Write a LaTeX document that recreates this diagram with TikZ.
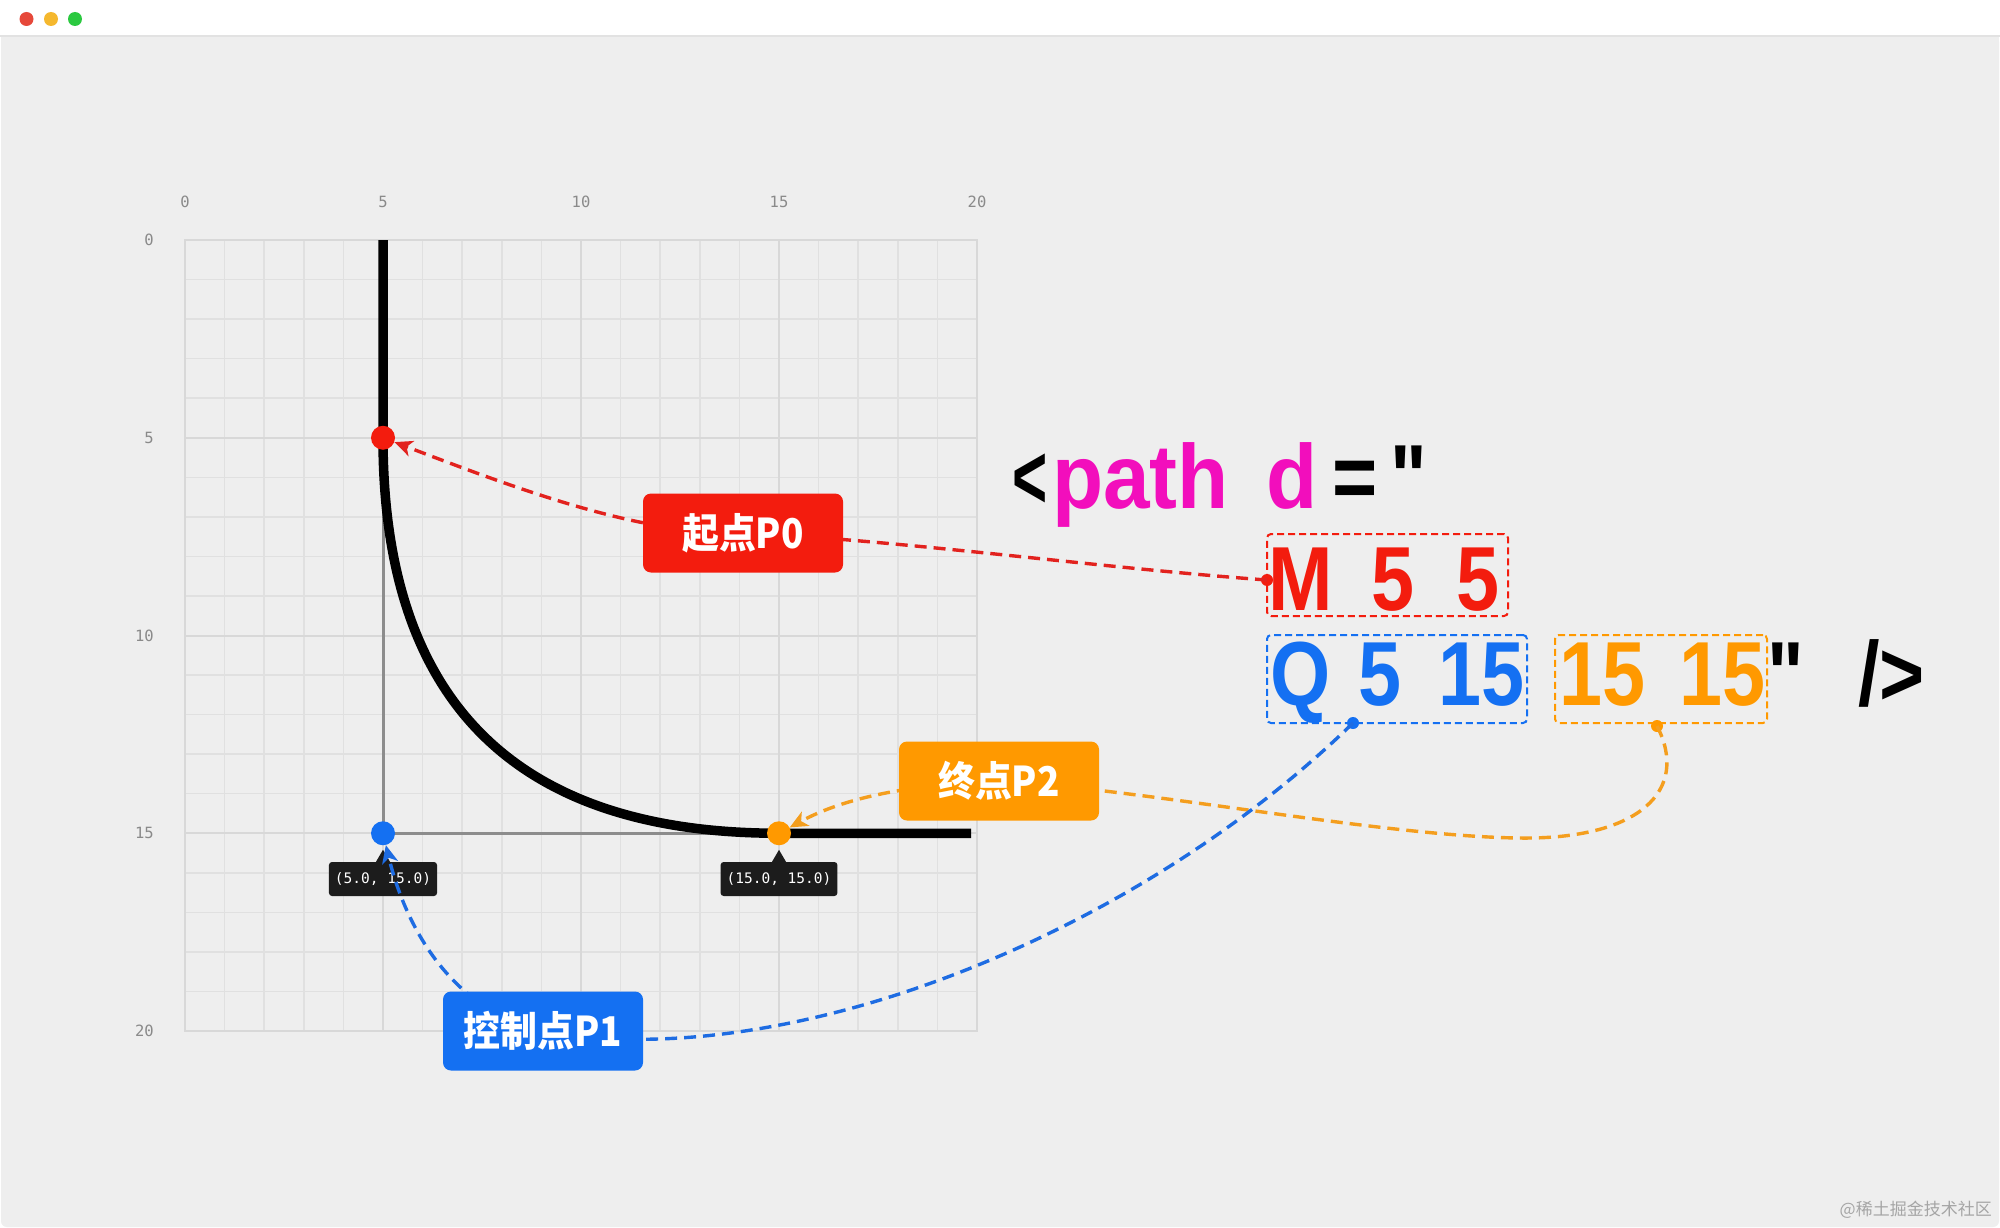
\documentclass[tikz,border=0pt]{standalone}
\usepackage{fontspec}
\usetikzlibrary{arrows.meta}
\newfontfamily\codefont{Liberation Sans}[FakeStretch=0.85]
\newfontfamily\codefontw{Liberation Sans}[FakeStretch=0.92]
\newfontfamily\cjkfont{Noto Sans CJK SC}[FakeStretch=0.9]
\newfontfamily\monofont{DejaVu Sans Mono}
\newfontfamily\wmfont{Noto Sans CJK SC}
\definecolor{bggray}{RGB}{238,238,238}
\definecolor{barline}{RGB}{226,226,226}
\definecolor{tlred}{RGB}{230,72,58}
\definecolor{tlyellow}{RGB}{245,184,46}
\definecolor{tlgreen}{RGB}{43,201,64}
\definecolor{gridminor}{RGB}{224,224,224}
\definecolor{gridmajor}{RGB}{216,216,216}
\definecolor{ticktext}{RGB}{138,138,138}
\definecolor{ctrlgray}{RGB}{140,140,140}
\definecolor{tipblack}{RGB}{28,28,28}
\definecolor{cred}{RGB}{243,28,14}
\definecolor{cblue}{RGB}{20,112,242}
\definecolor{corange}{RGB}{255,153,0}
\definecolor{cmagenta}{RGB}{242,14,188}
\definecolor{lred}{RGB}{226,34,30}
\definecolor{lblue}{RGB}{30,108,226}
\definecolor{lorange}{RGB}{244,158,30}
\definecolor{wmgray}{RGB}{165,165,165}
\begin{document}
\begin{tikzpicture}[x=1pt,y=-1pt,
  tick/.style={font=\monofont\fontsize{15.5}{15.5}\selectfont, text=ticktext, inner sep=0pt},
  bigdot/.style={circle, minimum size=24pt, inner sep=0pt},
  smalldot/.style={circle, minimum size=12pt, inner sep=0pt},
  tipbox/.style={fill=tipblack, rounded corners=3pt, minimum height=34pt, inner xsep=6pt, inner ysep=0pt,
    text=white, font=\monofont\fontsize{14.5}{14.5}\selectfont},
  lab/.style={rounded corners=8pt, minimum width=200pt, minimum height=79pt, inner sep=0pt,
    text=white, font=\cjkfont\bfseries\fontsize{41}{41}\selectfont},
  code/.style={font=\codefont\bfseries\fontsize{91}{91}\selectfont, inner sep=0pt, anchor=base west},
  codew/.style={font=\codefontw\bfseries\fontsize{91}{91}\selectfont, inner sep=0pt, anchor=base west},
  codebox/.style={dashed, dash pattern=on 7pt off 4pt, line width=2pt, rounded corners=4pt, inner sep=0pt},
  conn/.style={line width=3.4pt, dash pattern=on 12pt off 7pt, -{Stealth[length=18pt,width=16pt,inset=5pt]}}
]
\useasboundingbox (0,0) rectangle (2000,1228);
% window
\fill[white] (0,0) rectangle (2000,1228);
\fill[bggray, rounded corners=6pt] (1,36) rectangle (1999,1227);
\fill[bggray] (1,36) rectangle (1999,60);
\draw[barline, line width=1.5pt] (0,36) -- (2000,36);
\fill[tlred] (26.5,19) circle[radius=7pt];
\fill[tlyellow] (51,19) circle[radius=7pt];
\fill[tlgreen] (75,19) circle[radius=7pt];

% grid
\begin{scope}[shift={(185,240)}, x=39.6pt, y=-39.55pt]
  \foreach \i in {1,...,19} {
    \draw[gridminor, line width=1.5pt] (\i,0) -- (\i,20);
    \draw[gridminor, line width=1.5pt] (0,\i) -- (20,\i);
  }
  \foreach \i in {5,10,15} {
    \draw[gridmajor, line width=2pt] (\i,0) -- (\i,20);
    \draw[gridmajor, line width=2pt] (0,\i) -- (20,\i);
  }
  \draw[gridmajor, line width=2pt] (0,0) rectangle (20,20);
  % control polygon
  \draw[ctrlgray, line width=3pt] (5,5) -- (5,15) -- (15,15);
  % the path
  \draw[black, line width=9.5pt] (5,0) -- (5,5) .. controls (5,11.6667) and (8.3333,15) .. (15,15) -- (19.85,15);
  \coordinate (P0) at (5,5);
  \coordinate (P1) at (5,15);
  \coordinate (P2) at (15,15);
\end{scope}

% tick labels
\foreach \k/\lab in {0/0,1/5,2/10,3/15,4/20} {
  \node[tick] at ({185+198*\k},202) {\lab};
  \node[tick, anchor=east] at (154,{240+197.75*\k}) {\lab};
}

% tooltips
\node[tipbox] (tip1) at (383,879) {(5.0, 15.0)};
\fill[tipblack] ([xshift=-7pt]tip1.north) -- ([yshift=12pt]tip1.north) -- ([xshift=7pt]tip1.north) -- cycle;
\node[tipbox] (tip2) at (779,879) {(15.0, 15.0)};
\fill[tipblack] ([xshift=-7pt]tip2.north) -- ([yshift=12pt]tip2.north) -- ([xshift=7pt]tip2.north) -- cycle;

% points on curve
\node[bigdot, fill=cred] (p0dot) at (P0) {};
\node[bigdot, fill=cblue] (p1dot) at (P1) {};
\node[bigdot, fill=corange] (p2dot) at (P2) {};

% code text
\node[code, text=black] (tlt) at (1012,508) {\scalebox{0.78}[1]{<}};
\node[codew, text=cmagenta] (tpath) at (1052,508) {path};
\node[codew, text=cmagenta] (td) at (1266,508) {d};
\node[code, text=black] (teq) at (1332,508) {=};
\node[code, text=black] (tq1) at (1390,508) {"};

\node[codebox, draw=cred, minimum width=241pt, minimum height=82pt] (mbox) at (1387.5,575) {};
\node[code, text=cred] (tM) at (1268,610) {M};
\node[code, text=cred] (tM5a) at (1371,610) {5};
\node[code, text=cred] (tM5b) at (1456,610) {5};

\node[codebox, draw=cblue, minimum width=260pt, minimum height=88pt] (qbox) at (1397,679) {};
\node[code, text=cblue] (tQ) at (1270,705) {Q};
\node[code, text=cblue] (tQ5) at (1358,705) {5};
\node[code, text=cblue] (tQ15) at (1438,705) {15};

\node[codebox, draw=corange, minimum width=212pt, minimum height=88pt] (ebox) at (1661,679) {};
\node[code, text=corange] (tE15a) at (1559,705) {15};
\node[code, text=corange] (tE15b) at (1679,705) {15};

\node[code, text=black] (tq2) at (1767,705) {"};
\node[code, text=black] (tend) at (1858,705) {/>};

% small dots on boxes
\node[smalldot, fill=cred] (mdot) at (1267,580) {};
\node[smalldot, fill=cblue] (bdot) at (1353,723) {};
\node[smalldot, fill=corange] (odot) at (1657,726) {};

% label centres
\coordinate (p0c) at (743,533);
\coordinate (p2c) at (999,781);
\coordinate (p1c) at (543,1031);
\coordinate (obend) at (1518,838);

% connectors
\draw[conn, lred] (mdot.center) .. controls (1100,568) and (900,540) .. (p0c)
   .. controls (640,535) and (520,490) .. (p0dot);
\draw[conn, lorange] (odot.center) .. controls (1690,790) and (1640,840) .. (obend)
   .. controls (1380,836) and (1150,790) .. (p2c)
   .. controls (900,785) and (840,800) .. (p2dot);
\draw[conn, lblue] (bdot.center) .. controls (1130,940) and (780,1075) .. (p1c)
   .. controls (450,1010) and (405,925) .. (p1dot);

% labels
\node[lab, fill=cred] (p0lab) at (p0c) {起点P0};
\node[lab, fill=corange] (p2lab) at (p2c) {终点P2};
\node[lab, fill=cblue] (p1lab) at (p1c) {控制点P1};

% watermark
\node[font=\wmfont\fontsize{17}{17}\selectfont, text=wmgray, anchor=east, inner sep=0pt] (wm) at (1992,1210) {@稀土掘金技术社区};
\end{tikzpicture}
\end{document}
